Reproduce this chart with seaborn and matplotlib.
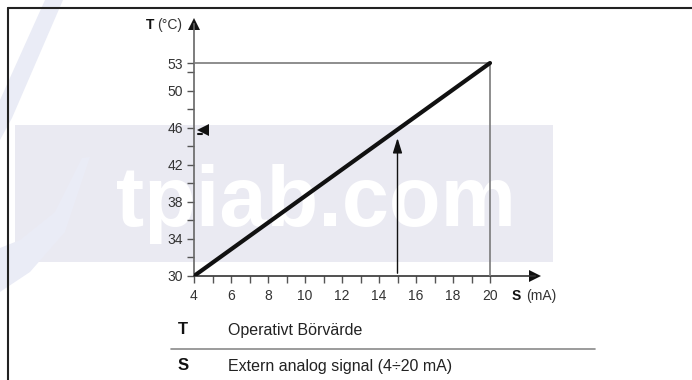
import matplotlib
matplotlib.use("Agg")
import matplotlib.pyplot as plt
from matplotlib.patches import Rectangle, Polygon
from matplotlib.lines import Line2D
import numpy as np
import pandas as pd
import seaborn as sns

# values
signal_ma = [4, 20]
setpoint_c = [30, 53]
x_major = [4, 6, 8, 10, 12, 14, 16, 18, 20]
x_minor = [5, 7, 9, 11, 13, 15, 17, 19]
y_major = [30, 34, 38, 42, 46, 50, 53]
y_minor = [32, 36, 40, 44, 48, 52]
example_signal = 15
example_arrow_top = 45.2
example_setpoint = 46
legend_keys = ["T", "S"]
legend_texts = ["Operativt Börvärde", "Extern analog signal (4÷20 mA)"]

W, H = 692, 380


def fx(x):
    return x / W


def fy(y):
    return 1 - y / H


sns.set_style("ticks")
plt.rcParams["font.family"] = ["Liberation Sans", "DejaVu Sans"]

fig = plt.figure(figsize=(W / 100, H / 100), dpi=100)

# watermark band, swoosh and text
fig.patches.append(Rectangle((fx(15), fy(262)), fx(553) - fx(15), fy(125) - fy(262),
                             transform=fig.transFigure, color="#eaeaf2", zorder=-3, lw=0))
fig.patches.append(Polygon([(fx(45), fy(0)), (fx(63), fy(0)), (fx(12), fy(118)), (fx(0), fy(140)), (fx(0), fy(100))],
                           closed=True, transform=fig.transFigure, color="#eaecf6", zorder=-2, lw=0))
fig.patches.append(Polygon([(fx(90), fy(157)), (fx(82), fy(158)), (fx(55), fy(212)), (fx(20), fy(240)), (fx(0), fy(248)),
                            (fx(0), fy(292)), (fx(30), fy(272)), (fx(65), fy(232))],
                           closed=True, transform=fig.transFigure, color="#eaecf6", zorder=-2, lw=0))
fig.text(fx(116), fy(226), "tpiab.com", fontsize=61, fontweight="bold", color="white",
         ha="left", va="baseline", zorder=-1)

# frame
fig.lines.append(Line2D([fx(8), fx(692)], [fy(8), fy(8)], transform=fig.transFigure, color="#222222", lw=1.5))
fig.lines.append(Line2D([fx(8), fx(8)], [fy(8), fy(380)], transform=fig.transFigure, color="#222222", lw=1.5))

# axes: x 4 at px 194, 18.5 px per mA; y 30 at px 276, 9.26 px per degree
ax_l, ax_r, ax_t, ax_b = 194, 535, 24, 276
ax = fig.add_axes([fx(ax_l), fy(ax_b), fx(ax_r) - fx(ax_l), fy(ax_t) - fy(ax_b)])
ax.set_facecolor("none")
ax.set_xlim(4, 4 + (ax_r - ax_l) / 18.5)
ax.set_ylim(30, 30 + (ax_b - ax_t) / 9.26)

df = pd.DataFrame({"S": signal_ma, "T": setpoint_c})
sns.lineplot(data=df, x="S", y="T", ax=ax, color="#111111", lw=3, zorder=5)

# helper lines to the end point
ax.plot([signal_ma[0], signal_ma[1]], [setpoint_c[1], setpoint_c[1]], color="#7a7a7a", lw=1.2, zorder=3)
ax.plot([signal_ma[1], signal_ma[1]], [setpoint_c[0], setpoint_c[1]], color="#7a7a7a", lw=1.2, zorder=3)

# example reading
ax.annotate("", xy=(example_signal, example_arrow_top), xytext=(example_signal, setpoint_c[0]),
            arrowprops=dict(arrowstyle="-|>,head_length=0.9,head_width=0.28", color="#111111", lw=1.0),
            zorder=4)
ax.plot([4.5], [example_setpoint - 0.2], marker="<", color="#111111", ms=9, clip_on=False, zorder=6,
        markeredgewidth=0)
ax.plot([4.22, 4.45], [45.3, 45.3], color="#111111", lw=1.5, clip_on=False)

# spines and arrowheads
sns.despine(ax=ax)
ax.spines["left"].set_color("#666666")
ax.spines["bottom"].set_color("#333333")
ax.spines["left"].set_linewidth(1.2)
ax.spines["bottom"].set_linewidth(1.2)
ax.plot(0, 1, marker="^", color="#111111", ms=9, transform=ax.transAxes, clip_on=False, markeredgewidth=0)
ax.plot(1, 0, marker=">", color="#111111", ms=9, transform=ax.transAxes, clip_on=False, markeredgewidth=0)

ax.set_xticks(x_major)
ax.set_xticks(x_minor, minor=True)
ax.set_yticks(y_major)
ax.set_yticks(y_minor, minor=True)
ax.set_xticklabels([str(v) for v in x_major])
ax.set_yticklabels([str(v) for v in y_major])
ax.tick_params(axis="both", which="both", direction="out", length=5, width=1, colors="#555555",
               labelsize=10, labelcolor="#333333", bottom=True, left=True)
ax.tick_params(axis="y", which="major", pad=3)
ax.tick_params(axis="x", which="major", pad=4)
ax.set_xlabel("")
ax.set_ylabel("")

# axis titles
fig.text(fx(154), fy(25), "T", fontweight="bold", fontsize=10, ha="right", va="center", color="#111111")
fig.text(fx(157), fy(25), "(°C)", fontsize=10, ha="left", va="center", color="#333333")
fig.text(fx(512), fy(296), "S", fontweight="bold", fontsize=10, ha="left", va="center", color="#111111")
fig.text(fx(526), fy(296), "(mA)", fontsize=10, ha="left", va="center", color="#333333")

# legend rows
for key, txt, y in zip(legend_keys, legend_texts, [330, 366]):
    fig.text(fx(178), fy(y), key, fontweight="bold", fontsize=12, ha="left", va="center", color="#111111")
    fig.text(fx(228), fy(y), txt, fontsize=11.5, ha="left", va="center", color="#222222")
fig.lines.append(Line2D([fx(171), fx(595)], [fy(349), fy(349)], transform=fig.transFigure, color="#8a8a8a", lw=1.2))

fig.savefig("out.png", dpi=100)
